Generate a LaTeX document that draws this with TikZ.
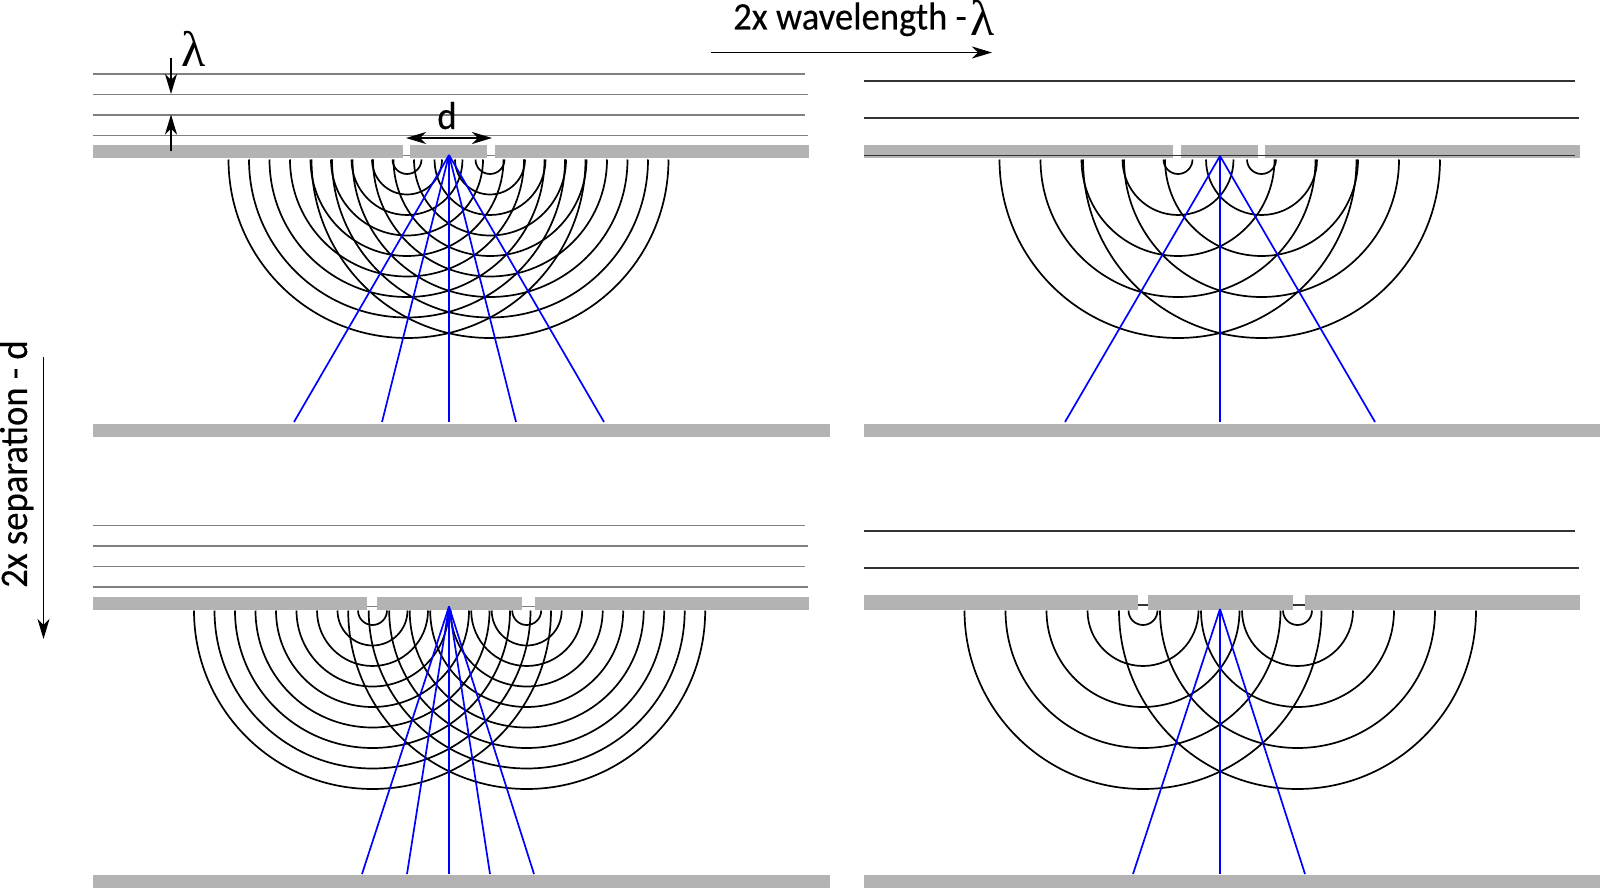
\documentclass[tikz,border=0pt]{standalone}
\usepackage{fontspec}
\usetikzlibrary{arrows.meta}
\setmainfont[FakeStretch=0.94,FakeBold=0.3]{Carlito}
\newfontfamily\lamfont{Liberation Serif}
\definecolor{barrier}{HTML}{B3B3B3}
\tikzset{
  barrierfill/.style={fill=barrier,draw=none},
  wavelight/.style={draw=black!50,line width=1.6pt},
  wavedark/.style={draw=black!80,line width=1.6pt},
  ripple/.style={draw=black,line width=1.7pt},
  ray/.style={draw=blue,line width=1.7pt},
  dimarrow/.style={draw=black,line width=1.4pt,-{Stealth[length=20pt,width=12pt,inset=6pt]}},
  bigtext/.style={font=\fontsize{39}{41}\selectfont,inner sep=0pt},
  lamtext/.style={font=\lamfont\fontsize{50}{52}\selectfont,inner sep=0pt},
}
% panel: #1 first slit x, #2 second slit x, #3 arc centre y, #4 arc step
\newcommand{\ripples}[4]{%
  \foreach \k in {0,...,20}{%
    \pgfmathsetmacro{\r}{14.5+#4*\k}%
    \ifdim \r pt<179pt
      \draw[ripple] ({#1-\r},#3) arc (180:0:\r);
      \draw[ripple] ({#2-\r},#3) arc (180:0:\r);
    \fi
  }%
}
\begin{document}
\begin{tikzpicture}[x=1pt,y=1pt,yscale=-1]
\useasboundingbox (0,0) rectangle (1600,888);
% ---- panel 1
\foreach \y/\e in {74/805,94.5/808,115/805,135.5/808,155.5/805}{\draw[wavelight] (93,\y) -- (\e,\y);}
\fill[barrierfill] (93,145) rectangle (402.5,158);
\fill[barrierfill] (410,145) rectangle (487,158);
\fill[barrierfill] (494.5,145) rectangle (809,158);
\ripples{407}{490}{159.5}{20.5}
\coordinate (a1) at (449,155);
\foreach \x in {294,382,449,516,604}{\draw[ray] (a1) -- (\x,422);}
\fill[barrierfill] (93,423.5) rectangle (830,437);
% ---- panel 2
\fill[barrierfill] (864,145) rectangle (1173,158);
\fill[barrierfill] (1181,145) rectangle (1257.7,158);
\fill[barrierfill] (1265,145) rectangle (1579.5,158);
\foreach \y/\e in {81/1575,118/1579,155.5/1575}{\draw[wavedark] (864,\y) -- (\e,\y);}
\ripples{1178}{1261.5}{159.5}{41}
\coordinate (a2) at (1220,156);
\foreach \x in {1065,1220,1375}{\draw[ray] (a2) -- (\x,422);}
\fill[barrierfill] (864,423.5) rectangle (1600,437);
% ---- panel 3
\foreach \y/\e in {525.3/805,545.7/808,566.3/805,587/808,606.5/805}{\draw[wavelight] (93,\y) -- (\e,\y);}
\fill[barrierfill] (93,596.7) rectangle (367,609.5);
\fill[barrierfill] (377,596.7) rectangle (522,609.5);
\fill[barrierfill] (534.5,596.7) rectangle (809,609.5);
\ripples{372.5}{526.7}{610.5}{20.5}
\coordinate (a3) at (449,606.5);
\foreach \x in {362,407,449,490,534}{\draw[ray] (a3) -- (\x,874);}
\fill[barrierfill] (93,874.5) rectangle (830,888);
% ---- panel 4
\foreach \y/\e in {530.7/1575,568/1579,605/1575}{\draw[wavedark] (864,\y) -- (\e,\y);}
\fill[barrierfill] (864,595) rectangle (1138.3,609.5);
\fill[barrierfill] (1147.7,595) rectangle (1292.7,609.5);
\fill[barrierfill] (1305.3,595) rectangle (1579.5,609.5);
\ripples{1143}{1297.5}{610.5}{41}
\coordinate (a4) at (1220,609);
\foreach \x in {1133,1220,1305}{\draw[ray] (a4) -- (\x,874);}
\fill[barrierfill] (864,874.5) rectangle (1600,888);
% ---- dimension arrows and labels
\coordinate (ld1) at (171,58);  \coordinate (ld2) at (171,94);
\coordinate (lu1) at (171,151); \coordinate (lu2) at (171,114.5);
\draw[dimarrow] (ld1) -- (ld2);
\draw[dimarrow] (lu1) -- (lu2);
\node[lamtext,anchor=base west] (lamone) at (181,67) {λ};
\coordinate (dl) at (406,138); \coordinate (dr) at (492,138);
\draw[dimarrow,{Stealth[length=20pt,width=12pt,inset=6pt]}-{Stealth[length=20pt,width=12pt,inset=6pt]}] (dl) -- (dr);
\node[bigtext,anchor=base] (dlabel) at (447,129) {d};
\node[bigtext,anchor=base west] (toplabel) at (733,29.5) {2x wavelength -};
\node[lamtext,anchor=base west] (lamtwo) at (970,35.5) {λ};
\coordinate (tl) at (710.5,52.5); \coordinate (tr) at (992,52.5);
\draw[dimarrow] (tl) -- (tr);
\node[bigtext,anchor=base west,rotate=90] (sidelabel) at (27,588) {2x separation - d};
\coordinate (st) at (43.5,357); \coordinate (sb) at (43.5,639);
\draw[dimarrow] (st) -- (sb);
\end{tikzpicture}
\end{document}
